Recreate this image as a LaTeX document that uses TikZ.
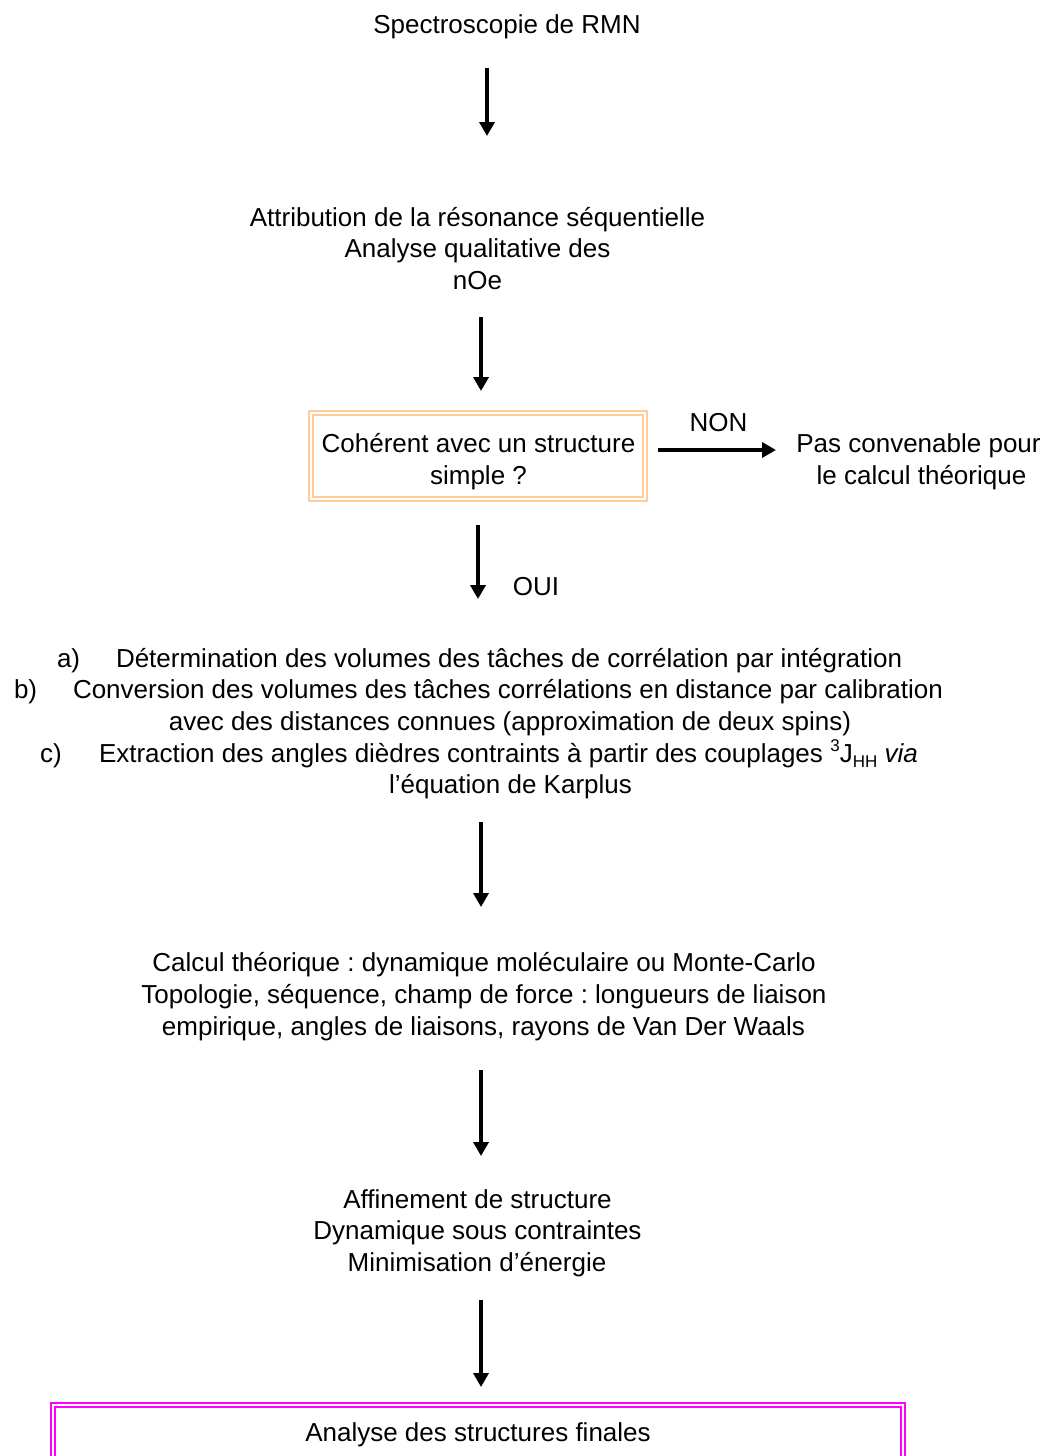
\documentclass[tikz,border=0pt]{standalone}
\usepackage{fontspec}
\setmainfont{Liberation Sans}
\usetikzlibrary{arrows.meta}
\definecolor{boxorange}{RGB}{255,204,153}
\definecolor{boxmagenta}{RGB}{255,0,255}
\frenchspacing
\begin{document}
\begin{tikzpicture}[x=1pt,y=-1pt,
  txt/.style={inner sep=0pt,outer sep=0pt,anchor=base,font=\fontsize{26}{31.5}\selectfont},
  txtw/.style={txt,anchor=base west},
  flowarrow/.style={line width=3.6pt,-{Triangle[length=14pt,width=15pt]}},
  dbox/.style={line width=2pt,double=white,double distance=2pt}]
\useasboundingbox (0,0) rectangle (1045,1456);
\clip (0,0) rectangle (1045,1456);

% texts
\node[txt] (t1) at (507,33) {Spectroscopie de RMN};
\node[txt] (t2a) at (477.5,226) {Attribution de la résonance séquentielle};
\node[txt] (t2b) at (477.5,257) {Analyse qualitative des};
\node[txt] (t2c) at (477.5,289) {nOe};

\draw[dbox,draw=boxorange] (311,413) rectangle (645,499);
\node[txt] (t3a) at (478.5,452) {Cohérent avec un structure};
\node[txt] (t3b) at (478.5,484) {simple ?};

\node[txt] (non) at (718.5,431) {NON};
\node[txt] (r1) at (918.5,452) {Pas convenable pour};
\node[txt] (r2) at (921.5,484) {le calcul théorique};

\node[txt] (oui) at (536,595) {OUI};

\node[txtw] (la) at (57,667) {a)};
\node[txtw] (ta) at (116,667) {Détermination des volumes des tâches de corrélation par intégration};
\node[txtw] (lb) at (14,698) {b)};
\node[txtw] (tb) at (73,698) {Conversion des volumes des tâches corrélations en distance par calibration};
\node[txt] (tb2) at (510,730) {avec des distances connues (approximation de deux spins)};
\node[txtw] (lc) at (40,762) {c)};
\node[txtw] (tc) at (99,762) {Extraction des angles dièdres contraints à partir des couplages \raisebox{0.42em}{\fontsize{17}{17}\selectfont 3}J\raisebox{-0.22em}{\fontsize{17}{17}\selectfont HH} \textit{via}};
\node[txt] (tc2) at (510.5,793) {l’équation de Karplus};

\node[txt] (c1) at (484,971) {Calcul théorique : dynamique moléculaire ou Monte-Carlo};
\node[txt] (c2) at (484,1003) {Topologie, séquence, champ de force : longueurs de liaison};
\node[txt] (c3) at (483.5,1035) {empirique, angles de liaisons, rayons de Van Der Waals};

\node[txt] (f1) at (477.5,1208) {Affinement de structure};
\node[txt] (f2) at (477.5,1239) {Dynamique sous contraintes};
\node[txt] (f3) at (477,1271) {Minimisation d’énergie};

\draw[dbox,draw=boxmagenta] (53,1404.5) rectangle (903,1480);
\node[txt] (g1) at (478,1441) {Analyse des structures finales};

% arrow end points
\coordinate (a1s) at (487,68);   \coordinate (a1e) at (487,136);
\coordinate (a2s) at (481,317);  \coordinate (a2e) at (481,391);
\coordinate (a3s) at (478,525);  \coordinate (a3e) at (478,599);
\coordinate (a4s) at (481,822);  \coordinate (a4e) at (481,907);
\coordinate (a5s) at (481,1070); \coordinate (a5e) at (481,1156);
\coordinate (a6s) at (481,1300); \coordinate (a6e) at (481,1387);
\coordinate (ans) at (658,450);  \coordinate (ane) at (776,450);

\draw[flowarrow] (a1s) -- (a1e);
\draw[flowarrow] (a2s) -- (a2e);
\draw[flowarrow] (a3s) -- (a3e);
\draw[flowarrow] (a4s) -- (a4e);
\draw[flowarrow] (a5s) -- (a5e);
\draw[flowarrow] (a6s) -- (a6e);
\draw[flowarrow] (ans) -- (ane);
\end{tikzpicture}
\end{document}
